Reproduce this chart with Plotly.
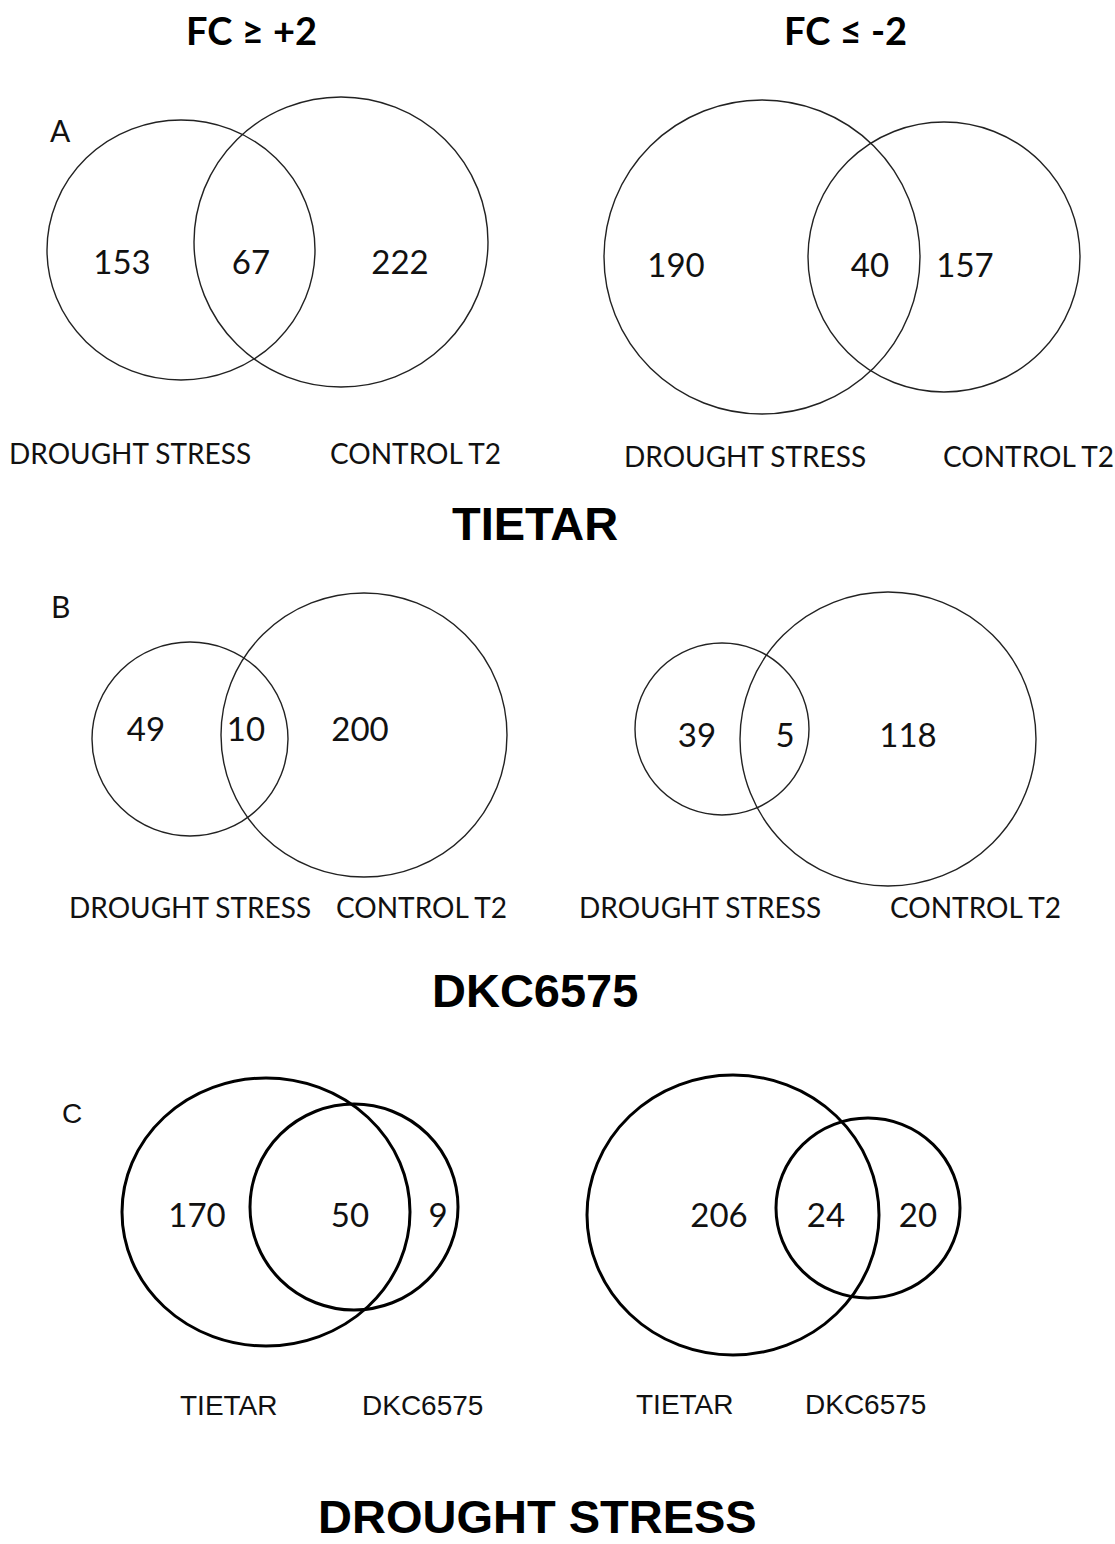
import plotly.graph_objects as go

# ---------------- data ----------------
column_titles = ["FC \u2265 +2", "FC \u2264 -2"]
group_titles = ["TIETAR", "DKC6575", "DROUGHT STRESS"]
panel_letters = ["A", "B", "C"]

set_labels_A = ["DROUGHT STRESS", "CONTROL T2"]
set_labels_B = ["DROUGHT STRESS", "CONTROL T2"]
set_labels_C = ["TIETAR", "DKC6575"]

# counts: [only set 1, intersection, only set 2]
counts_A_up = [153, 67, 222]
counts_A_down = [190, 40, 157]
counts_B_up = [49, 10, 200]
counts_B_down = [39, 5, 118]
counts_C_up = [170, 50, 9]
counts_C_down = [206, 24, 20]

# ---------------- layout geometry (pixels on a 1115x1544 page) ----------------
W, H = 1115, 1544
venns = [
    dict(counts=counts_A_up, labels=set_labels_A,
         c1=(181, 250, 134, 130), c2=(341, 242, 147, 145),
         nx=(122, 251, 400), ny=262, lx=(130, 415), ly=453,
         lw=1.4, lc="#222222", lfont="Lato", lsize=28),
    dict(counts=counts_A_down, labels=set_labels_A,
         c1=(762, 257, 158, 157), c2=(944, 257, 136, 135),
         nx=(676, 870, 965), ny=265, lx=(745, 1028), ly=456,
         lw=1.4, lc="#222222", lfont="Lato", lsize=28),
    dict(counts=counts_B_up, labels=set_labels_B,
         c1=(190, 739, 98, 97), c2=(364, 735, 143, 142),
         nx=(146, 246, 360), ny=729, lx=(190, 421), ly=907,
         lw=1.4, lc="#222222", lfont="Lato", lsize=28),
    dict(counts=counts_B_down, labels=set_labels_B,
         c1=(722, 729, 87, 86), c2=(888, 739, 148, 147),
         nx=(697, 785, 908), ny=735, lx=(700, 975), ly=907,
         lw=1.4, lc="#222222", lfont="Lato", lsize=28),
    dict(counts=counts_C_up, labels=set_labels_C,
         c1=(266, 1212, 144, 134), c2=(354, 1207, 104, 103),
         nx=(197, 350, 438), ny=1215, lx=(228, 422), ly=1405,
         lw=3, lc="#000000", lfont="Liberation Sans", lsize=28),
    dict(counts=counts_C_down, labels=set_labels_C,
         c1=(733, 1215, 146, 140), c2=(868, 1208, 92, 90),
         nx=(719, 826, 918), ny=1215, lx=(684, 865), ly=1404,
         lw=3, lc="#000000", lfont="Liberation Sans", lsize=28),
]
number_dy = 4  # visual centring offset of the number glyphs
column_title_pos = [(251, 30), (845, 30)]
group_title_pos = [(535, 523, "middle"), (535, 990, "middle"), (537, 1544, "bottom")]
letter_pos = [(60, 130, "Lato"), (60, 606, "Lato"), (72, 1113, "Liberation Sans")]

fig = go.Figure()
shapes = []
annotations = []

for v in venns:
    for c in (v["c1"], v["c2"]):
        cx, cy, rx, ry = c
        shapes.append(dict(type="circle", xref="x", yref="y",
                           x0=cx - rx, x1=cx + rx, y0=cy - ry, y1=cy + ry,
                           line=dict(color=v["lc"], width=v["lw"]),
                           fillcolor="rgba(0,0,0,0)"))
    fig.add_trace(go.Scatter(
        x=list(v["nx"]), y=[v["ny"] + number_dy] * 3, mode="text",
        text=[str(n) for n in v["counts"]],
        textfont=dict(family="Lato", size=33, color="#111111"),
        textposition="middle center", hoverinfo="skip", showlegend=False))
    for lab, x in zip(v["labels"], v["lx"]):
        annotations.append(dict(x=x, y=v["ly"], xref="x", yref="y", text=lab,
                                showarrow=False, xanchor="center", yanchor="middle",
                                font=dict(family=v["lfont"], size=v["lsize"], color="#111111")))

for t, (x, y) in zip(column_titles, column_title_pos):
    annotations.append(dict(x=x, y=y, xref="x", yref="y", text="<b>" + t + "</b>",
                            showarrow=False, xanchor="center", yanchor="middle",
                            font=dict(family="Lato", size=38, color="#000000")))
for t, (x, y, ya) in zip(group_titles, group_title_pos):
    annotations.append(dict(x=x, y=y, xref="x", yref="y", text="<b>" + t + "</b>",
                            showarrow=False, xanchor="center", yanchor=ya, borderpad=0,
                            font=dict(family="Liberation Sans", size=47, color="#000000")))
for t, (x, y, f) in zip(panel_letters, letter_pos):
    annotations.append(dict(x=x, y=y, xref="x", yref="y", text=t,
                            showarrow=False, xanchor="center", yanchor="middle",
                            font=dict(family=f, size=30 if f == "Lato" else 28, color="#111111")))

fig.update_layout(
    width=W, height=H, margin=dict(l=0, r=0, t=0, b=0),
    paper_bgcolor="white", plot_bgcolor="white",
    xaxis=dict(range=[0, W], visible=False, fixedrange=True),
    yaxis=dict(range=[H, 0], visible=False, fixedrange=True),
    shapes=shapes, annotations=annotations, showlegend=False,
)
fig.write_html("out.html", config={"displayModeBar": False},
               post_script="document.body.style.margin='0';document.body.style.overflow='hidden';")
